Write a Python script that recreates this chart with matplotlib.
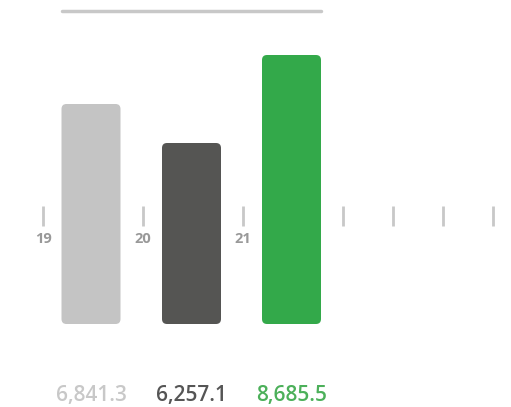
import matplotlib
matplotlib.use("Agg")
import matplotlib.pyplot as plt
from matplotlib.patches import FancyBboxPatch

plt.rcParams['font.family'] = ['Open Sans', 'DejaVu Sans']

# data
bar_x = [19.48, 20.485, 21.485]
bar_heights = [220, 181, 269]
bar_colors = ['#c4c4c4', '#555553', '#33a94a']
values = [6841.3, 6257.1, 8685.5]
value_colors = ['#c8c8c8', '#555555', '#4cb05a']
tick_pos = [19, 20, 21, 22, 22.5, 23, 23.5]
tick_labels = ['19', '20', '21']

fig = plt.figure(figsize=(5.11, 4.07), dpi=100)
ax = fig.add_axes([0, 0, 1, 1])
ax.set_xlim(18.57, 23.68)
ax.set_ylim(-83, 324)
ax.axis('off')

width = 0.59
for x, h, c in zip(bar_x, bar_heights, bar_colors):
    p = FancyBboxPatch((x - width / 2, 0), width, h,
                       boxstyle="round,pad=0,rounding_size=0.05",
                       mutation_aspect=100, fc=c, ec='none')
    ax.add_patch(p)

# tick marks and labels
ax.vlines(tick_pos, 98, 118, color='#c8c8c8', lw=2)
for t, lab in zip(tick_pos, tick_labels):
    ax.text(t, 85, lab, ha='center', va='center', fontsize=10.5,
            color='#999999', fontweight='bold')

# top line
ax.plot([bar_x[0] - width / 2, bar_x[-1] + width / 2], [313, 313],
        color='#c8c8c8', lw=2.5, solid_capstyle='round')

for x, v, c in zip(bar_x, values, value_colors):
    ax.text(x, -71, f"{v:,.1f}", ha='center', va='center', fontsize=15,
            color=c, fontweight='semibold')

fig.savefig('out.png', dpi=100)
